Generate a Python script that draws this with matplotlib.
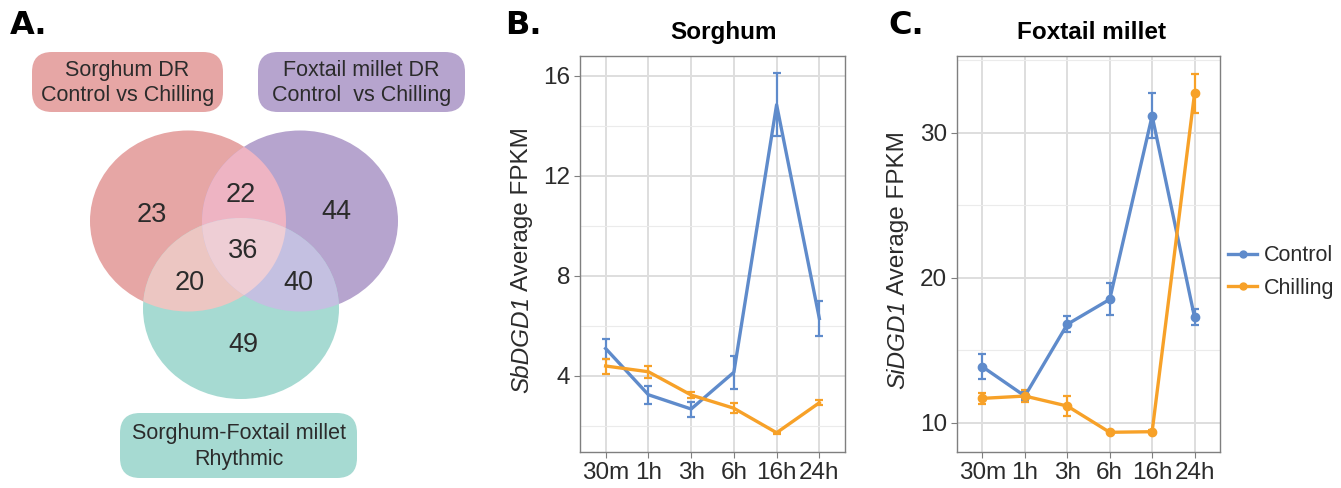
"""Venn diagram of DR genes plus DGD1 expression time courses in sorghum and foxtail millet."""
import matplotlib

matplotlib.use("Agg")
import matplotlib.pyplot as plt  # noqa: E402
from matplotlib.lines import Line2D  # noqa: E402
from matplotlib.patches import Ellipse, FancyBboxPatch, Polygon  # noqa: E402
import numpy as np  # noqa: E402

plt.rcParams["font.family"] = ["Liberation Sans", "DejaVu Sans"]

# venn counts
venn_labels = ["23", "22", "44", "36", "20", "40", "49"]
set_names = [
    "Sorghum DR\nControl vs Chilling",
    "Foxtail millet DR\nControl  vs Chilling",
    "Sorghum-Foxtail millet\nRhythmic",
]

# time courses
times = ["30m", "1h", "3h", "6h", "16h", "24h"]
sb_control = [5.1, 3.25, 2.68, 4.15, 14.85, 6.3]
sb_control_err = [0.4, 0.35, 0.3, 0.67, 1.25, 0.7]
sb_chilling = [4.4, 4.17, 3.24, 2.71, 1.73, 2.93]
sb_chilling_err = [0.3, 0.23, 0.11, 0.2, 0.05, 0.1]

si_control = [13.86, 11.84, 16.79, 18.51, 31.17, 17.27]
si_control_err = [0.85, 0.3, 0.55, 1.1, 1.55, 0.55]
si_chilling = [11.68, 11.84, 11.15, 9.34, 9.38, 32.72]
si_chilling_err = [0.4, 0.43, 0.72, 0.08, 0.1, 1.35]

BLUE = "#5F8BCB"
ORANGE = "#F7A128"
TEXT = "#2B2B2B"
W_PX, H_PX = 1341, 488

fig = plt.figure(figsize=(13.41, 4.88), dpi=100)

# ---- panel A: venn diagram, drawn in pixel coordinates ----
axv = fig.add_axes([0, 0, 480 / W_PX, 1])
axv.set_xlim(0, 480)
axv.set_ylim(H_PX, 0)
axv.axis("off")

w, h = 196, 181
centers = [(188, 221), (300, 221), (241, 308.5)]
base_cols = ["#E6A6A5", "#B6A4CE", "#A6DAD2"]
ells = []
for c, col in zip(centers, base_cols):
    e = Ellipse(c, w, h, facecolor=col, edgecolor="none")
    axv.add_patch(e)
    ells.append(e)


def inside(pts, c):
    return ((pts[:, 0] - c[0]) / (w / 2)) ** 2 + ((pts[:, 1] - c[1]) / (h / 2)) ** 2 <= 1


# lens shaped overlap of the two top sets, used as a clip for the centre region
t = np.linspace(0, 2 * np.pi, 720)
ring_a = np.column_stack([centers[0][0] + w / 2 * np.cos(t), centers[0][1] + h / 2 * np.sin(t)])
ring_b = np.column_stack([centers[1][0] + w / 2 * np.cos(t), centers[1][1] + h / 2 * np.sin(t)])
lens = np.vstack([ring_a[inside(ring_a, centers[1])], ring_b[inside(ring_b, centers[0])]])
mid = lens.mean(axis=0)
lens = lens[np.argsort(np.arctan2(lens[:, 1] - mid[1], lens[:, 0] - mid[0]))]
lens_patch = Polygon(lens, closed=True, facecolor="#EEB4C3", edgecolor="none")
axv.add_patch(lens_patch)

for clip, col in [(ells[0], "#ECC6C2"), (ells[1], "#C4C0E1"), (lens_patch, "#EECED5")]:
    e = Ellipse(centers[2], w, h, facecolor=col, edgecolor="none")
    axv.add_patch(e)
    e.set_clip_path(clip)

label_pos = [(152, 215), (241, 195), (336, 212), (243, 251), (190, 283), (298, 283), (243, 345)]
for (x, y), s in zip(label_pos, venn_labels):
    axv.text(x, y, s, fontsize=19.5, ha="center", va="center", color=TEXT)

boxes = [(32, 52, 191, 60), (258, 52, 207, 60), (120, 413, 237, 65)]
for (x, y, bw, bh), col, name in zip(boxes, base_cols, set_names):
    axv.add_patch(FancyBboxPatch((x, y), bw, bh, boxstyle="round,pad=0,rounding_size=20",
                                 facecolor=col, edgecolor="none"))
    axv.text(x + bw / 2, y + bh / 2 + 1, name, fontsize=15.5, ha="center", va="center",
             color=TEXT, linespacing=1.3)


# ---- panels B and C: expression lines ----
def line_panel(rect, title, title_x, ctrl, ctrl_err, chil, chil_err, ylim, major, minor, dots):
    ax = fig.add_axes(rect)
    x = np.arange(1, len(times) + 1)
    ax.set_xlim(0.4, len(times) + 0.6)
    ax.set_ylim(*ylim)
    ax.set_yticks(major)
    ax.set_yticks(minor, minor=True)
    ax.set_xticks(x)
    ax.set_xticklabels(times)
    ax.grid(True, which="major", color="#DEDEDE", lw=1.4)
    ax.grid(True, which="minor", axis="y", color="#EBEBEB", lw=0.8)
    ax.set_axisbelow(True)
    for sp in ax.spines.values():
        sp.set_color("#7F7F7F")
        sp.set_linewidth(1.0)
    ax.tick_params(which="major", labelsize=17.5, colors="#7F7F7F", labelcolor=TEXT, length=4,
                   pad=3)
    ax.tick_params(which="minor", length=0)
    ms = 6 if dots else 0
    for vals, err, col in [(ctrl, ctrl_err, BLUE), (chil, chil_err, ORANGE)]:
        ax.errorbar(x, vals, yerr=err, color=col, lw=2.4, elinewidth=1.6, capsize=3,
                    capthick=1.6, marker="o", ms=ms)
    ax.set_title(title, fontsize=17.5, fontweight="bold", color="black", pad=12, x=title_x)
    return ax


line_panel([580 / W_PX, 1 - 452 / H_PX, 265 / W_PX, 396 / H_PX], "Sorghum", 0.54,
           sb_control, sb_control_err, sb_chilling, sb_chilling_err,
           (0.96, 16.8), [4, 8, 12, 16], [2, 6, 10, 14], False)
line_panel([957 / W_PX, 1 - 452 / H_PX, 263 / W_PX, 396 / H_PX], "Foxtail millet", 0.513,
           si_control, si_control_err, si_chilling, si_chilling_err,
           (7.98, 35.3), [10, 20, 30], [15, 25, 35], True)

# y labels: italic gene name followed by upright text, centred on the panel height
renderer = fig.canvas.get_renderer()
for x_px, gene in [(522, "SbDGD1"), (898, "SiDGD1")]:
    t1 = fig.text(x_px / W_PX, 0, gene, rotation=90, style="italic", fontsize=17.5,
                  color=TEXT, ha="center", va="bottom")
    t2 = fig.text(x_px / W_PX, 0, "Average FPKM", rotation=90, fontsize=17.5,
                  color=TEXT, ha="center", va="bottom")
    h1 = t1.get_window_extent(renderer).height
    h2 = t2.get_window_extent(renderer).height
    gap = 5
    bottom = (H_PX - 260) - (h1 + gap + h2) / 2
    t1.set_y(bottom / H_PX)
    t2.set_y((bottom + h1 + gap) / H_PX)

handles = [Line2D([], [], color=BLUE, lw=2.4, marker="o", ms=5),
           Line2D([], [], color=ORANGE, lw=2.4, marker="o", ms=5)]
leg = fig.legend(handles, ["Control", "Chilling"], loc="center left",
                 bbox_to_anchor=(1228 / W_PX, 1 - 272 / H_PX), frameon=False, fontsize=15.5,
                 handlelength=1.35, handletextpad=0.3, labelspacing=0.55, borderpad=0,
                 borderaxespad=0)
for t_ in leg.get_texts():
    t_.set_color(TEXT)

for x, s in [(10, "A."), (505, "B."), (888, "C.")]:
    fig.text(x / W_PX, 1 - 25 / H_PX, s, fontsize=23, fontweight="bold", va="center", ha="left",
             family="DejaVu Sans")

fig.savefig("out.png", dpi=100)
